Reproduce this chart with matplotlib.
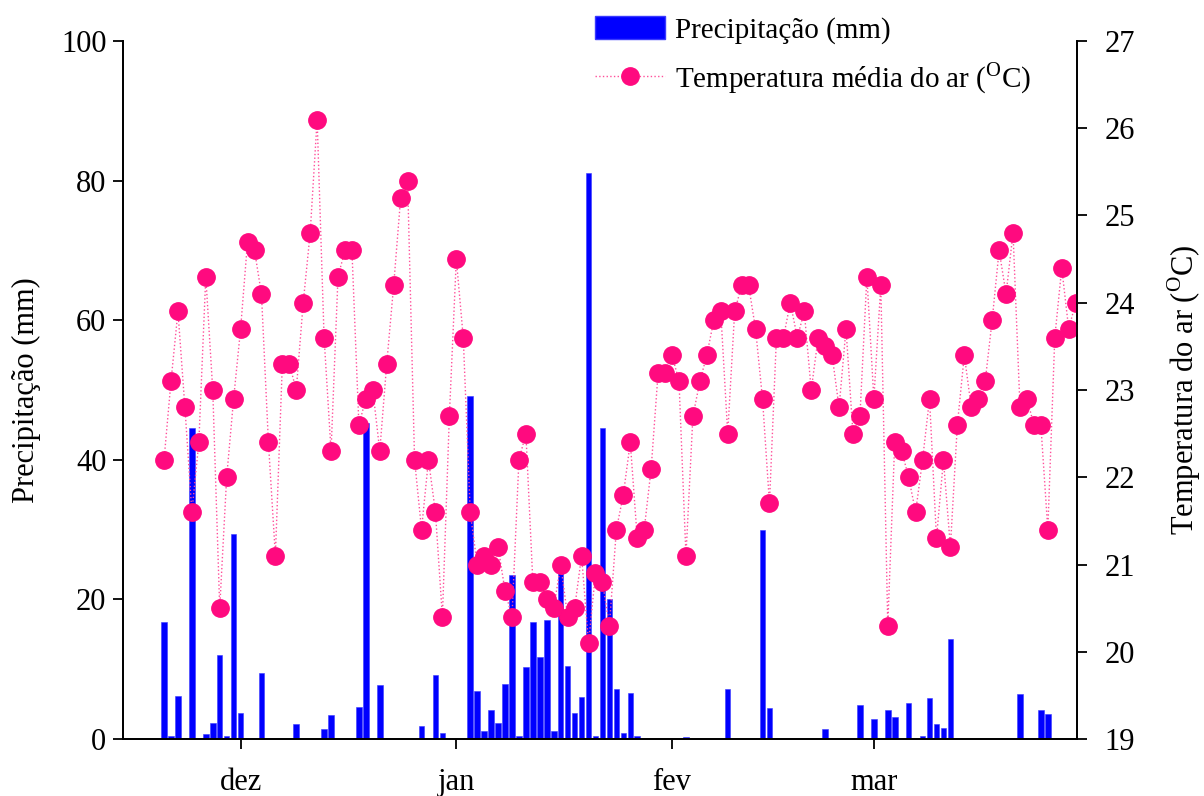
import numpy as np
import matplotlib
matplotlib.use("Agg")
import matplotlib.pyplot as plt
from matplotlib.patches import Patch
from matplotlib.lines import Line2D

plt.rcParams['font.family'] = ['Liberation Serif', 'DejaVu Serif']
plt.rcParams['mathtext.fontset'] = 'custom'
plt.rcParams['mathtext.rm'] = 'Liberation Serif'

###--- Data ---###
# day index counted from 1 Dec (0 = 1 dez), leap year (fev has 29 days)
first_day = -11
temp = [22.2, 23.1, 23.9, 22.8, 21.6, 22.4, 24.3, 23.0, 20.5, 22.0, 22.9,      # nov
        23.7, 24.7, 24.6, 24.1, 22.4, 21.1, 23.3, 23.3, 23.0, 24.0, 24.8,      # dez
        26.1, 23.6, 22.3, 24.3, 24.6, 24.6, 22.6, 22.9, 23.0, 22.3, 23.3,
        24.2, 25.2, 25.4, 22.2, 21.4, 22.2, 21.6, 20.4, 22.7,
        24.5, 23.6, 21.6, 21.0, 21.1, 21.0, 21.2, 20.7, 20.4, 22.2, 22.5,      # jan
        20.8, 20.8, 20.6, 20.5, 21.0, 20.4, 20.5, 21.1, 20.1, 20.9, 20.8,
        20.3, 21.4, 21.8, 22.4, 21.3, 21.4, 22.1, 23.2, 23.2,
        23.4, 23.1, 21.1, 22.7, 23.1, 23.4, 23.8, 23.9, 22.5, 23.9, 24.2,      # fev
        24.2, 23.7, 22.9, 21.7, 23.6, 23.6, 24.0, 23.6, 23.9, 23.0, 23.6,
        23.5, 23.4, 22.8, 23.7, 22.5, 22.7, 24.3,
        22.9, 24.2, 20.3, 22.4, 22.3, 22.0, 21.6, 22.2, 22.9, 21.3,            # mar
        22.2, 21.2, 22.6, 23.4, 22.8, 22.9, 23.1, 23.8, 24.6, 24.1, 24.8,
        22.8, 22.9, 22.6, 22.6, 21.4, 23.6, 24.4, 23.7, 24.0]
temp_day = np.arange(first_day, first_day + len(temp))

rain_day = [-11, -10, -9, -8, -7, -5, -4, -3, -2, -1, 0, 3, 8, 12, 13, 17, 18, 20, 21,
            26, 28, 29, 33, 34, 35, 36, 37, 38, 39, 40, 41, 42, 43, 44, 45, 46, 47,
            48, 49, 50, 51, 52, 53, 54, 55, 56, 57, 64, 70, 75, 76, 84, 89, 91, 93,
            94, 96, 98, 99, 100, 101, 102, 112, 115, 116]
rain_mm = [16.8, 0.5, 6.1, 0.2, 44.5, 0.7, 2.3, 12.0, 0.5, 29.3, 3.7, 9.5, 2.1, 1.5, 3.5,
           4.6, 45.3, 7.8, 0.2, 1.8, 9.2, 0.9, 49.2, 6.9, 1.1, 4.2, 2.3, 7.9, 23.5, 0.5,
           10.3, 16.8, 11.8, 17.1, 1.1, 24.1, 10.5, 3.7, 6.0, 81.1, 0.4, 44.5, 20.0, 7.1,
           0.9, 6.6, 0.5, 0.3, 7.1, 30.0, 4.4, 1.4, 4.9, 2.8, 4.1, 3.1, 5.1, 0.5, 5.9,
           2.2, 1.6, 14.3, 6.4, 4.2, 3.6]

month_day = [0, 31, 62, 91]
month_lbl = ['dez', 'jan', 'fev', 'mar']

###--- Plot ---###
fig = plt.figure(figsize=(12.04, 7.96), dpi=100)
ax = fig.add_axes([0.1022, 0.0716, 0.7923, 0.8769])
ax.bar(rain_day, rain_mm, width=0.8, color='#0000ff', edgecolor='#3a3aff', linewidth=0.4)
ax.set_xlim(-16.89, 120.19)
ax.set_ylim(0, 100)
ax.set_yticks(np.arange(0, 101, 20))
ax.set_xticks(month_day)
ax.set_xticklabels(month_lbl)
ax.set_ylabel('Precipitação (mm)', fontsize=22, labelpad=14)

ax2 = ax.twinx()
ax2.plot(temp_day, temp, linestyle=':', color='#ff4f9a', linewidth=1.0,
         marker='o', markersize=12.5, markerfacecolor='#ff0a7f', markeredgecolor='#ff0a7f')
ax2.set_ylim(19, 27)
ax2.set_yticks(np.arange(19, 28, 1))
ax2.set_ylabel(r'Temperatura do ar ($^{\mathrm{O}}$C)', fontsize=22, labelpad=22)

for a in (ax, ax2):
    a.spines['top'].set_visible(False)
    for s in ('left', 'right', 'bottom'):
        a.spines[s].set_linewidth(1.3)
    a.tick_params(axis='both', labelsize=22, width=1.3, length=7, direction='out')
ax.tick_params(axis='x', pad=14)
ax.tick_params(axis='y', pad=5)
ax2.tick_params(axis='y', pad=13)

handles = [Patch(facecolor='#0000ff', edgecolor='#3a3aff'),
           Line2D([], [], linestyle=':', color='#ff4f9a', linewidth=1.0, marker='o',
                  markersize=12.5, markerfacecolor='#ff0a7f', markeredgecolor='#ff0a7f')]
labels = ['Precipitação (mm)', r'Temperatura média do ar ($^{\mathrm{O}}$C)']
ax2.legend(handles, labels, loc='upper left', bbox_to_anchor=(0.4725, 1.0125),
           bbox_transform=fig.transFigure, frameon=False, fontsize=21,
           handlelength=2.4, handleheight=0.8, handletextpad=0.35, labelspacing=0.55)

plt.savefig('out.png', dpi=100)
